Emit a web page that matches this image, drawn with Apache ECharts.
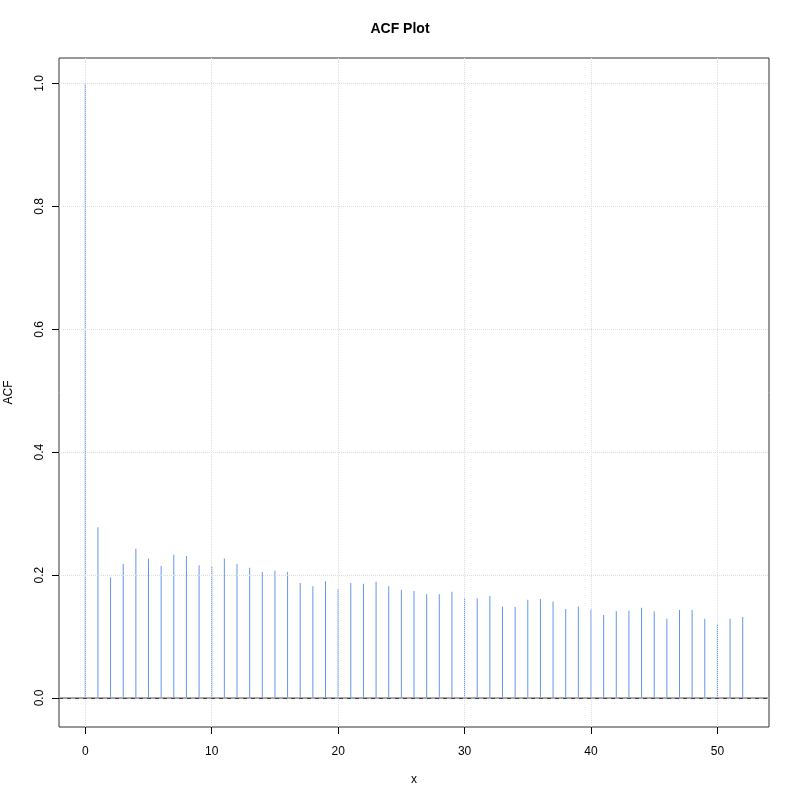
<!DOCTYPE html>
<html><head><meta charset="utf-8">
<script src="https://cdn.jsdelivr.net/npm/echarts@6/dist/echarts.min.js"></script>
<style>html,body{margin:0;padding:0;background:#fff}#c{width:800px;height:800px}</style>
</head><body><div id="c"></div>
<script>
const lags = [0,1,2,3,4,5,6,7,8,9,10,11,12,13,14,15,16,17,18,19,20,21,22,23,24,25,26,27,28,29,30,31,32,33,34,35,36,37,38,39,40,41,42,43,44,45,46,47,48,49,50,51,52];
const acfValues = [1.0,0.278,0.196,0.218,0.243,0.227,0.215,0.233,0.231,0.216,0.215,0.227,0.218,0.212,0.205,0.207,0.205,0.187,0.182,0.190,0.177,0.187,0.186,0.189,0.182,0.176,0.174,0.169,0.169,0.173,0.163,0.162,0.166,0.149,0.148,0.160,0.161,0.157,0.145,0.149,0.144,0.135,0.141,0.142,0.147,0.141,0.129,0.143,0.143,0.129,0.119,0.129,0.132];
const confBound = 0.0045;
const xTicks = [0,10,20,30,40,50];
const yTicks = [0,0.2,0.4,0.6,0.8,1.0];

const font = 'Liberation Sans, Arial, sans-serif';
const gridStyle = {color:'#dcdcdc',type:'dotted',width:1};
const gridLines = xTicks.map(v=>({xAxis:v,lineStyle:gridStyle})).concat(yTicks.map(v=>({yAxis:v,lineStyle:gridStyle})));
const chart = echarts.init(document.getElementById('c'), null, {renderer:'canvas'});
chart.setOption({
  animation:false,
  backgroundColor:'#fff',
  title:{text:'ACF Plot',left:'center',top:17,textStyle:{fontFamily:font,fontSize:14,fontWeight:'bold',color:'#000'}},
  grid:{left:59,right:31,top:58,bottom:73,outerBoundsMode:'none',containLabel:false,show:true,borderColor:'#333',borderWidth:1,backgroundColor:'transparent'},
  xAxis:{type:'value',min:-2.08,max:54.08,
    name:'x',nameLocation:'middle',nameGap:47,nameTextStyle:{fontFamily:font,fontSize:12,color:'#000'},
    axisLine:{show:false,onZero:false},
    axisTick:{show:true,length:7,inside:false,customValues:xTicks,lineStyle:{color:'#000'}},
    axisLabel:{customValues:xTicks,margin:19,fontFamily:font,fontSize:12,color:'#000'},
    splitLine:{show:false}},
  yAxis:{type:'value',min:-0.0472,max:1.0415,
    name:'ACF',nameLocation:'middle',nameGap:44,nameRotate:90,nameTextStyle:{fontFamily:font,fontSize:12,color:'#000'},
    axisLine:{show:false,onZero:false},
    axisTick:{show:true,length:7,customValues:yTicks,lineStyle:{color:'#000'}},
    axisLabel:{customValues:yTicks,rotate:90,margin:13,fontFamily:font,fontSize:12,color:'#000',formatter:v=>v.toFixed(1)},
    splitLine:{show:false}},
  series:[
    {type:'line',data:[],silent:true,
     markLine:{symbol:'none',silent:true,label:{show:false},data:gridLines}},
    {type:'bar',data:lags.map((l,i)=>[l,acfValues[i]]),barWidth:1,itemStyle:{color:'#6495ED'},silent:true,
     markLine:{symbol:'none',silent:true,label:{show:false},
       data:[
         {yAxis:0,lineStyle:{color:'#a8a8a8',type:'solid',width:2}},
         {yAxis:confBound,lineStyle:{color:'#444',type:[4,4],width:1}},
         {yAxis:-confBound,lineStyle:{color:'#444',type:[4,4],width:1}}
       ]}}
  ]
});
</script></body></html>
